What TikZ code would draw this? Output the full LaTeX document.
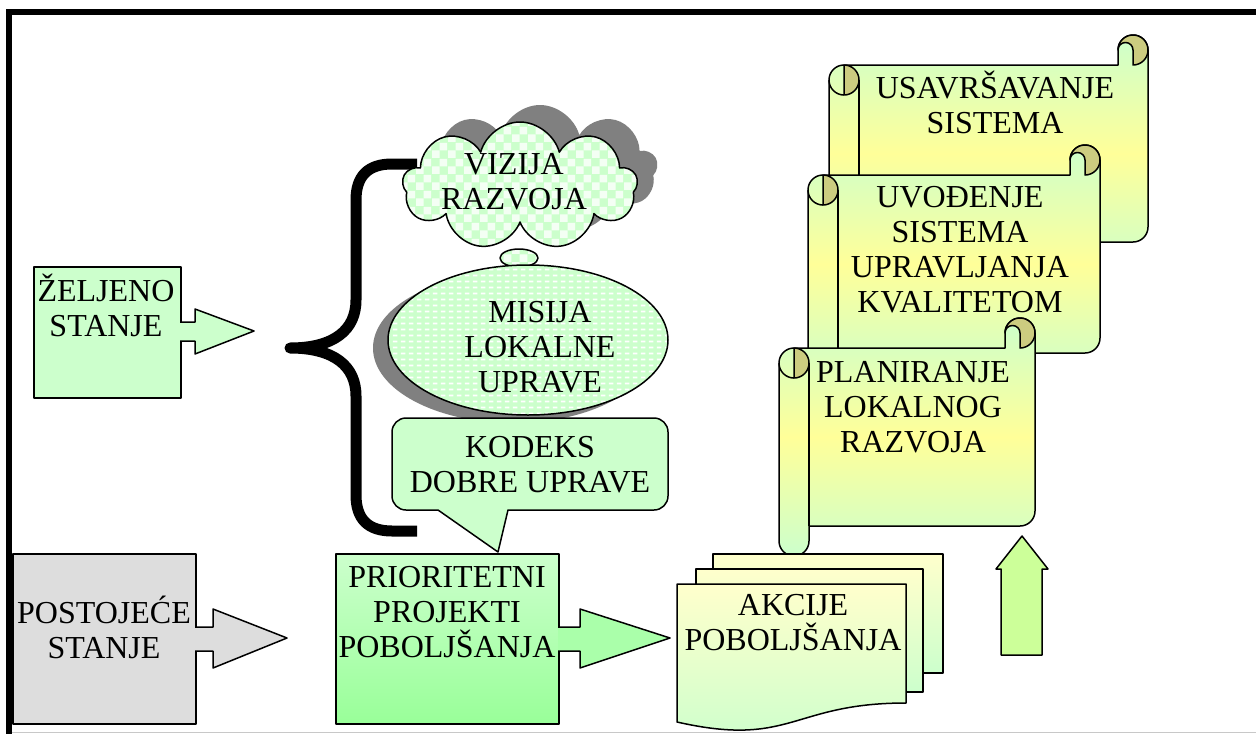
\documentclass[tikz,border=0pt]{standalone}
\usepackage{fontspec}
\setmainfont{Liberation Serif}
\usetikzlibrary{shapes.symbols, shapes.geometric, patterns.meta}

\definecolor{mint}{HTML}{CCFFCC}
\definecolor{greyfill}{HTML}{DDDDDD}
\definecolor{deepmint}{HTML}{99FF99}
\definecolor{arrowmint}{HTML}{AAFFAA}
\definecolor{lime}{HTML}{CCFF99}
\definecolor{paleyellow}{HTML}{FFFFCC}
\definecolor{scrollyellow}{HTML}{FFFF99}
\definecolor{curl}{RGB}{204,204,128}
\definecolor{shadowgrey}{HTML}{808080}
\definecolor{rulegrey}{HTML}{C8C8C8}
\definecolor{checkwhite}{HTML}{F4FFF4}

% fixed line box: height 28pt, depth 9pt
\newcommand{\lnstrut}{\rule[-9pt]{0pt}{37pt}}
% caption font with a fixed 35pt line pitch
\newcommand{\captionfont}{\fontsize{32}{35}\selectfont\lineskiplimit=-40pt\relax}

\tikzdeclarepattern{
  name=checks, type=uncolored,
  bottom left={(0pt,0pt)}, top right={(16pt,16pt)}, tile size={(16pt,16pt)},
  code={\fill (0pt,0pt) rectangle (8pt,8pt); \fill (8pt,8pt) rectangle (16pt,16pt);}
}
\tikzdeclarepattern{
  name=dashgrid, type=uncolored,
  bottom left={(0pt,0pt)}, top right={(8pt,6pt)}, tile size={(8pt,6pt)},
  code={\fill (1pt,2pt) rectangle (6pt,4pt);}
}

\tikzset{
  outline/.style={draw=black, line width=1.5pt, line join=round},
  caption/.style={font=\captionfont, align=center, inner sep=0pt, anchor=north},
  box/.style={outline, inner sep=0pt, anchor=north west},
  docfill/.style={outline, top color=paleyellow, bottom color=mint},
  puffy/.style={cloud, cloud puffs=9, cloud puff arc=150, cloud ignores aspect,
    minimum width=235pt, minimum height=128pt, inner sep=0pt},
}

% scroll sheet: left, top, right, bottom (y grows downwards)
\newcommand{\scrollsheet}[4]{%
  \filldraw[outline, top color=mint, bottom color=mint, middle color=scrollyellow]
    (#1,{#2+45}) arc[start angle=180, end angle=270, radius=15]
    -- ({#3-30},{#2+30}) -- ({#3-30},{#2+15})
    arc[start angle=180, end angle=360, radius=15]
    -- (#3,{#4-45}) arc[start angle=0, end angle=90, radius=15]
    -- ({#1+30},{#4-30}) -- ({#1+30},{#4-15})
    arc[start angle=0, end angle=180, radius=15]
    -- cycle;
  \draw[outline] ({#1+30},{#2+45}) -- ({#1+30},{#4-30});
  \draw[outline] (#1,{#2+45}) arc[start angle=180, end angle=90, radius=15];
  \filldraw[outline, fill=curl] ({#1+15},{#2+30})
    arc[start angle=-90, end angle=90, radius=15] -- cycle;
  \filldraw[outline, fill=curl] ({#3-30},{#2+15})
    arc[start angle=180, end angle=450, radius=15]
    -- ({#3-15},{#2+15}) arc[start angle=0, end angle=-180, radius=7.5] -- cycle;
}

\begin{document}
\begin{tikzpicture}[x=1pt, y=-1pt]
\useasboundingbox (0,0) rectangle (1256,734);
\fill[white] (0,0) rectangle (1256,734);

% frame
\draw[line width=6pt] (6,12) -- (1256,12);
\draw[line width=6pt] (9,9) -- (9,734);
\draw[rulegrey, line width=1.5pt] (12,732.5) -- (1256,732.5);

% desired state
\node[box, fill=mint, minimum width=147pt, minimum height=131pt] (want) at (33,266) {};
\filldraw[outline, fill=mint] (180,322) -- (195,322) -- (195,309) -- (254,331)
  -- (195,354) -- (195,341) -- (180,341);
\node[caption] (wanttext) at (106,273) {\lnstrut ŽELJENO\\\lnstrut STANJE};

% brace
\draw[line width=11pt, line join=round] (417,164) -- (392,164)
  .. controls (368,164) and (356,176) .. (356,200) -- (356,300)
  .. controls (356,330) and (334,348) .. (290,348)
  .. controls (334,348) and (356,366) .. (356,396) -- (356,495)
  .. controls (356,519) and (368,531) .. (392,531) -- (417,531);

% vision cloud
\node[puffy, fill=shadowgrey] (visionshadow) at (540,169) {};
\node[puffy, outline, preaction={fill=mint}, pattern=checks, pattern color=checkwhite]
  (vision) at (520,186) {};
\node[ellipse, minimum width=38pt, minimum height=18pt, inner sep=0pt, outline,
  preaction={fill=mint}, pattern=checks, pattern color=checkwhite]
  (bubble) at (519,258) {};
\node[caption] (visiontext) at (514,146) {\lnstrut VIZIJA\\\lnstrut RAZVOJA};

% mission ellipse
\node[ellipse, minimum width=280pt, minimum height=150pt, inner sep=0pt,
  fill=shadowgrey] (missionshadow) at (513,348) {};
\node[ellipse, minimum width=280pt, minimum height=150pt, inner sep=0pt, outline,
  preaction={fill=mint}, pattern=dashgrid, pattern color=white]
  (mission) at (528,340) {};
\node[caption] (missiontext) at (540,294) {\lnstrut MISIJA\\\lnstrut LOKALNE\\\lnstrut UPRAVE};

% code callout
\filldraw[outline, fill=mint] (438,510) -- (498,552) -- (508,510) -- (654,510)
  arc[start angle=90, end angle=0, radius=14] -- (668,432)
  arc[start angle=0, end angle=-90, radius=14] -- (406,418)
  arc[start angle=-90, end angle=-180, radius=14] -- (392,496)
  arc[start angle=180, end angle=90, radius=14] -- cycle;
\node[caption] (codetext) at (530,429) {\lnstrut KODEKS\\\lnstrut DOBRE UPRAVE};

% present state
\node[box, fill=greyfill, minimum width=183pt, minimum height=170pt] (now) at (12,553) {};
\filldraw[outline, fill=greyfill] (195,627) -- (213,627) -- (213,609) -- (287,638)
  -- (213,668) -- (213,651) -- (195,651);
\node[caption] (nowtext) at (104,595) {\lnstrut POSTOJEĆE\\\lnstrut STANJE};

% priority projects
\node[box, top color=mint, bottom color=deepmint, minimum width=223pt, minimum height=170pt]
  (prio) at (335,553) {};
\filldraw[outline, fill=arrowmint] (558,627) -- (580,627) -- (580,609) -- (670,638)
  -- (580,668) -- (580,651) -- (558,651);
\node[caption] (priotext) at (447,559) {\lnstrut PRIORITETNI\\\lnstrut PROJEKTI\\\lnstrut POBOLJŠANJA};

% scrolls
\scrollsheet{829}{35}{1148}{272}
\node[caption] (improvetext) at (995,70) {\lnstrut USAVRŠAVANJE\\\lnstrut SISTEMA};
\scrollsheet{808}{145}{1100}{383}
\node[caption] (qmstext) at (960,179) {\lnstrut UVOĐENJE\\\lnstrut SISTEMA\\\lnstrut UPRAVLJANJA\\\lnstrut KVALITETOM};
\scrollsheet{779}{318}{1035}{556}
\node[caption] (plantext) at (913,354) {\lnstrut PLANIRANJE\\\lnstrut LOKALNOG\\\lnstrut RAZVOJA};

% improvement actions
\filldraw[docfill] (713,554) rectangle (943,673);
\filldraw[docfill] (696,569) rectangle (923,692);
\filldraw[docfill] (677,584) -- (906,584) -- (906,703)
  .. controls (791.5,703) and (791.5,748) .. (677,722) -- cycle;
\node[caption] (actiontext) at (793,587) {\lnstrut AKCIJE\\\lnstrut POBOLJŠANJA};

% upward arrow
\filldraw[outline, fill=lime] (1001,655) -- (1001,569) -- (996,569) -- (1022,536)
  -- (1048,569) -- (1042,569) -- (1042,655) -- cycle;
\end{tikzpicture}
\end{document}
